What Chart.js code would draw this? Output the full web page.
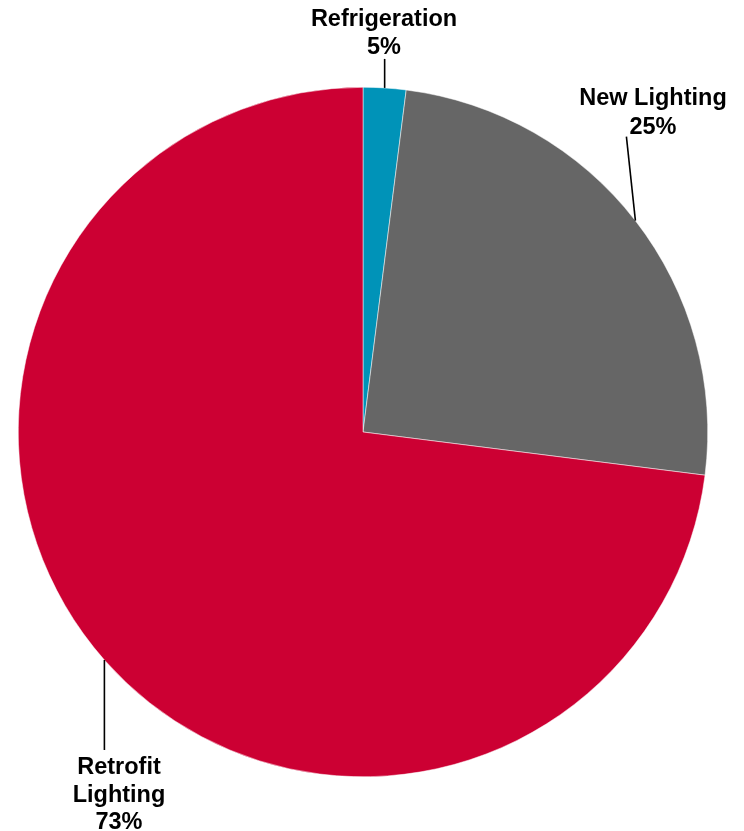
<!DOCTYPE html>
<html>
<head>
<meta charset="utf-8">
<script src="https://cdn.jsdelivr.net/npm/chart.js@4/dist/chart.umd.min.js"></script>
<style>
    html, body { margin: 0; padding: 0; background: #fff; }
    #wrap { width: 744px; height: 831px; }
</style>
</head>
<body>
<div id="wrap"><canvas id="chartPie" width="744" height="831"></canvas></div>
<script>
// ===== Datos =====
const categorias = ['Refrigeration', 'New Lighting', 'Retrofit Lighting'];
const valores = [2, 25, 73];
const etiquetasPct = ['5%', '25%', '73%'];
const colores = ['#0093B8', '#666666', '#CC0033'];

// lineas de etiqueta: desplazamiento del extremo y posicion del texto
const etiquetas = [
    { lineas: [categorias[0], etiquetasPct[0]], fin: [0, -29], texto: [384, 20], paso: 27.5 },
    { lineas: ['New Lighting', etiquetasPct[1]], fin: [-9, -84], texto: [653, 98.5], paso: 29 },
    { lineas: ['Retrofit', 'Lighting', etiquetasPct[2]], fin: [0, 90], texto: [119, 768], paso: 27.5 }
];

const pluginEtiquetas = {
    id: 'etiquetasPie',
    afterDatasetsDraw(chart) {
        const ctx = chart.ctx;
        const meta = chart.getDatasetMeta(0);
        ctx.save();
        meta.data.forEach((arc, i) => {
            const p = arc.getProps(['x', 'y', 'startAngle', 'endAngle', 'outerRadius'], true);
            const mid = (p.startAngle + p.endAngle) / 2;
            const x0 = p.x + Math.cos(mid) * p.outerRadius;
            const y0 = p.y + Math.sin(mid) * p.outerRadius;
            const e = etiquetas[i];
            ctx.strokeStyle = '#000';
            ctx.lineWidth = 1.6;
            ctx.beginPath();
            ctx.moveTo(x0, y0);
            ctx.lineTo(x0 + e.fin[0], y0 + e.fin[1]);
            ctx.stroke();

            ctx.fillStyle = '#000';
            ctx.font = 'bold 23.5px "Liberation Sans", Arial, sans-serif';
            ctx.textAlign = 'center';
            ctx.textBaseline = 'middle';
            e.lineas.forEach((t, k) => {
                ctx.fillText(t, e.texto[0], e.texto[1] + k * e.paso);
            });
        });
        ctx.restore();
    }
};

new Chart(document.getElementById('chartPie').getContext('2d'), {
    type: 'pie',
    data: {
        labels: categorias,
        datasets: [{
            data: valores,
            backgroundColor: colores,
            borderColor: '#ffffff',
            borderWidth: 0.5
        }]
    },
    options: {
        responsive: false,
        animation: false,
        layout: { padding: { left: 18, right: 36, top: 87, bottom: 54 } },
        plugins: {
            legend: { display: false },
            tooltip: { enabled: false }
        }
    },
    plugins: [pluginEtiquetas]
});
</script>
</body>
</html>
